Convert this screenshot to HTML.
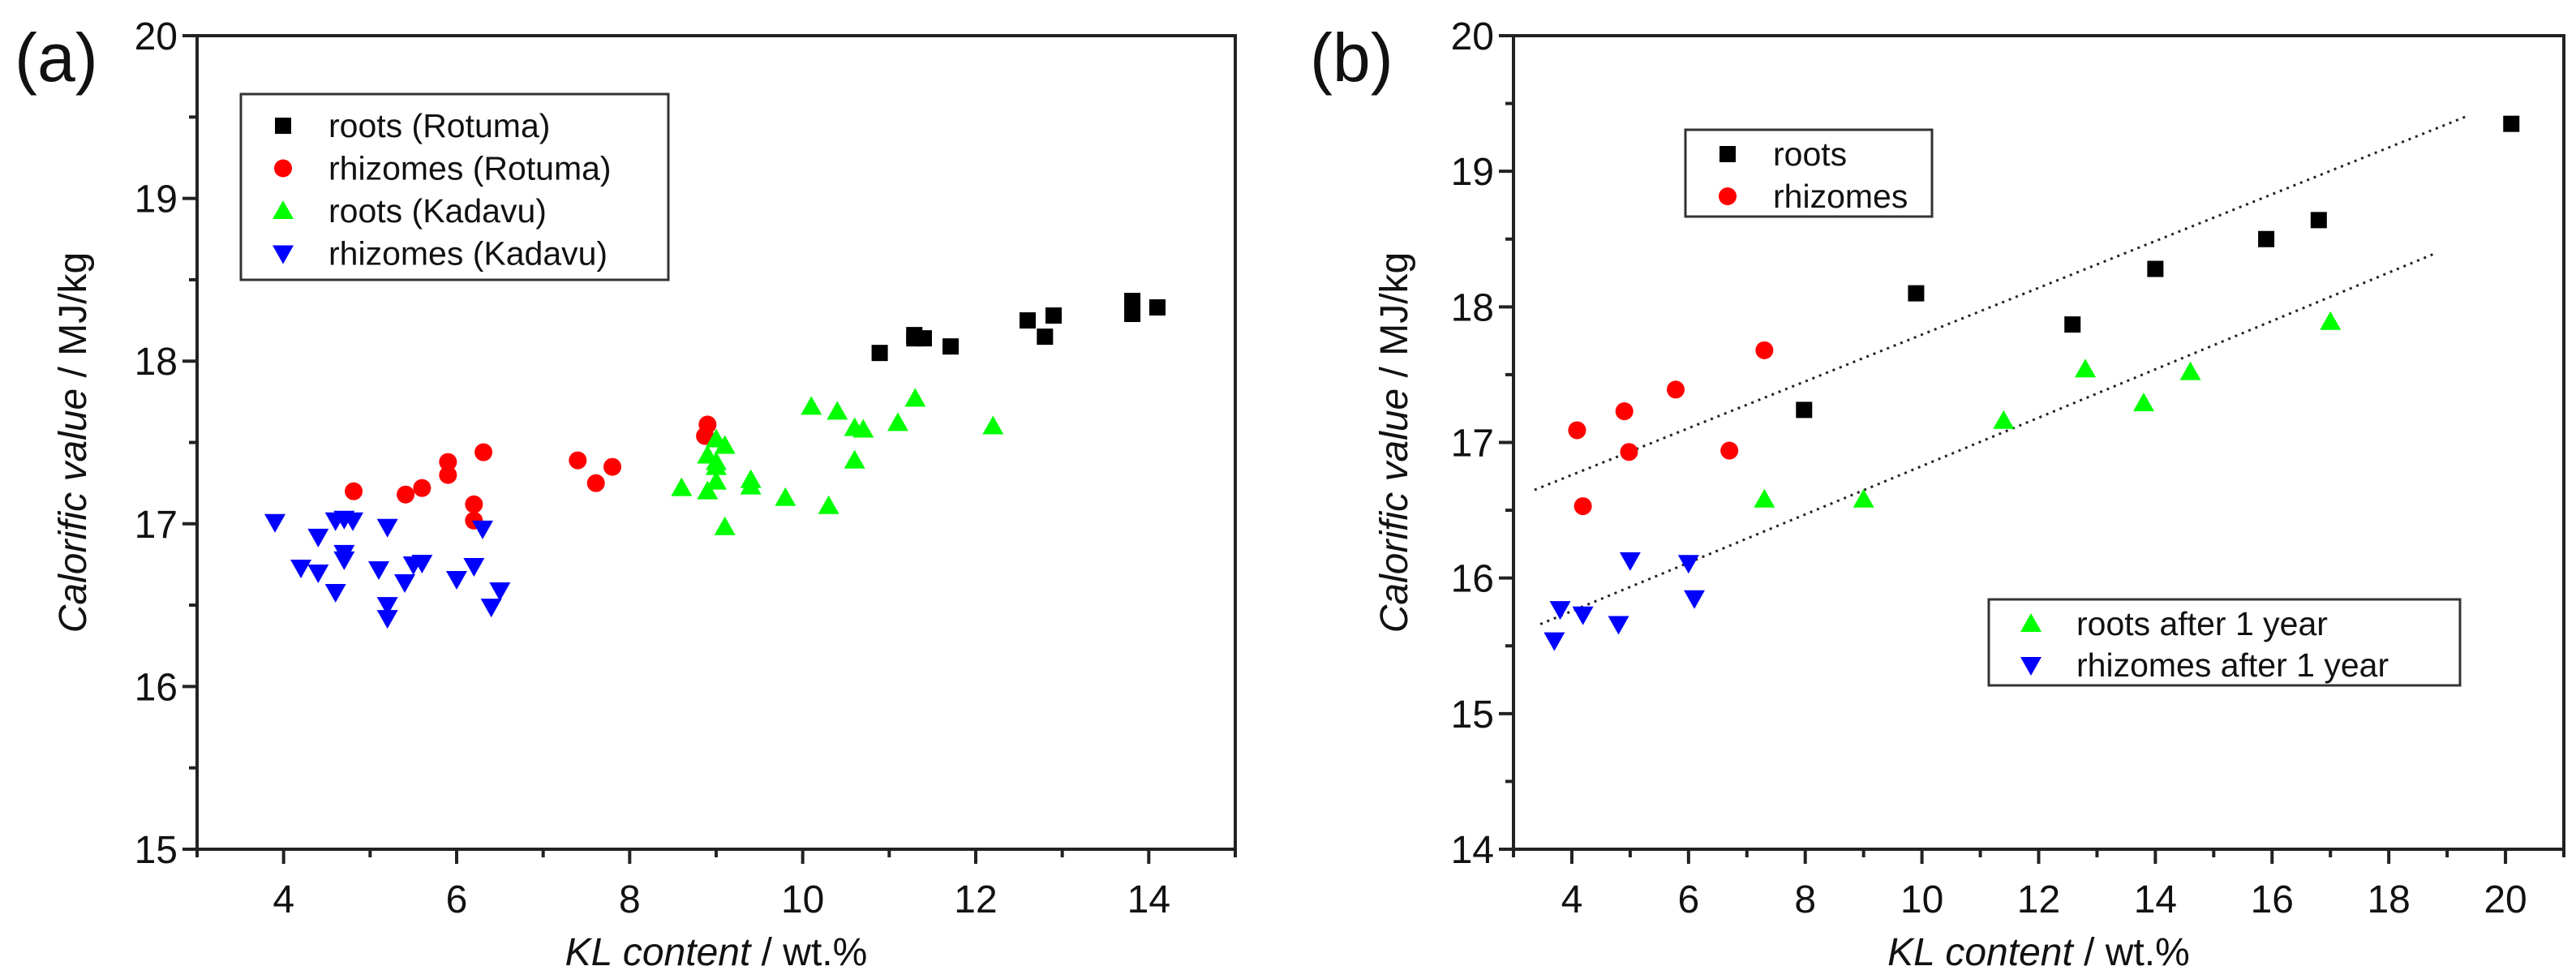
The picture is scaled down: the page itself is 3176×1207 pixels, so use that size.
<!DOCTYPE html>
<html><head><meta charset="utf-8"><style>
html,body{margin:0;padding:0;background:#fff;}
svg{display:block;font-family:"Liberation Sans",sans-serif;}
</style></head><body>
<svg id="fig" width="3176" height="1207" viewBox="0 0 3176 1207" xmlns="http://www.w3.org/2000/svg">
<rect width="3176" height="1207" fill="#fff"/>
</svg>
<script>
// Panel (a) data
const aRootsRotX=[10.89,11.29,11.29,11.4,11.71,12.6,12.8,12.9,13.81,13.81,14.1];
const aRootsRotY=[18.05,18.14,18.16,18.14,18.09,18.25,18.15,18.28,18.29,18.37,18.33];
const aRhizRotX=[4.81,5.41,5.6,5.9,5.9,6.31,6.2,6.2,7.4,7.61,7.8,8.9,8.87];
const aRhizRotY=[17.2,17.18,17.22,17.38,17.3,17.44,17.12,17.02,17.39,17.25,17.35,17.61,17.54];
const aRootsKadX=[8.6,8.9,8.9,9.0,9.1,9.0,9.0,9.1,9.4,9.4,9.8,10.1,10.3,10.4,10.6,10.7,10.6,11.1,11.3,12.2,9.0];
const aRootsKadY=[17.22,17.2,17.42,17.52,17.48,17.38,17.26,16.98,17.27,17.23,17.16,17.72,17.11,17.69,17.59,17.58,17.39,17.62,17.77,17.6,17.35];
const aRhizKadX=[3.9,4.2,4.4,4.4,4.6,4.6,4.7,4.7,4.8,4.7,5.1,5.2,5.2,5.2,5.4,5.5,5.6,6.0,6.2,6.3,6.4,6.5];
const aRhizKadY=[17.01,16.73,16.92,16.7,16.58,17.02,17.03,16.82,17.02,16.78,16.72,16.98,16.5,16.42,16.64,16.75,16.76,16.66,16.74,16.97,16.49,16.59];
const aXTicks=[4,6,8,10,12,14];
const aYTicks=[15,16,17,18,19,20];
// Panel (b) data
const bRootsX=[7.98,9.9,12.58,14.0,15.9,16.8,20.1];
const bRootsY=[17.24,18.10,17.87,18.28,18.50,18.64,19.35];
const bRhizX=[4.09,4.19,4.9,4.98,5.78,6.7,7.3];
const bRhizY=[17.09,16.53,17.23,16.93,17.39,16.94,17.68];
const bRoots1X=[7.3,9.0,11.4,12.8,13.8,14.6,17.0];
const bRoots1Y=[16.58,16.58,17.16,17.54,17.29,17.52,17.89];
const bRhiz1X=[3.7,3.8,4.19,4.8,5.0,6.0,6.1];
const bRhiz1Y=[15.54,15.77,15.73,15.66,16.13,16.11,15.85];
const bFitUpperX=[3.36,19.36];
const bFitUpperY=[16.65,19.41];
const bFitLowerX=[3.46,18.77];
const bFitLowerY=[15.66,18.39];
const bXTicks=[4,6,8,10,12,14,16,18,20];
const bYTicks=[14,15,16,17,18,19,20];

const NS="http://www.w3.org/2000/svg";
const svg=document.getElementById('fig');
function mk(tag,attrs,parent){const e=document.createElementNS(NS,tag);for(const k in attrs)e.setAttribute(k,attrs[k]);(parent||svg).appendChild(e);return e;}

function panel(cfg){
  const g=mk('g',{});
  
  
  const X=v=>cfg.L+(v-cfg.x0)/(cfg.x1-cfg.x0)*(cfg.R-cfg.L);
  const Y=v=>cfg.B-(v-cfg.y0)/(cfg.y1-cfg.y0)*(cfg.B-cfg.T);
  const frame=mk('rect',{x:cfg.L,y:cfg.T,width:cfg.R-cfg.L,height:cfg.B-cfg.T,fill:'none',stroke:'#222','stroke-width':4},g);
  
  
  for(let v=Math.ceil(cfg.x0);v<=cfg.x1;v+=1){
    const major=cfg.xTicks.includes(v);
    const t=mk('line',{x1:X(v),x2:X(v),y1:cfg.B,y2:cfg.B+(major?18:10),stroke:'#222','stroke-width':4},g);
    
    
  }
  cfg.xTicks.forEach(v=>{
    const t=mk('text',{x:X(v),y:cfg.B+78,'font-size':48,'text-anchor':'middle',fill:'#111'},g);
    t.textContent=v;
    
    
  });
  for(let v=cfg.y0;v<=cfg.y1+1e-9;v+=0.5){
    const major=Math.abs(v-Math.round(v))<1e-9;
    const t=mk('line',{x1:cfg.L,x2:cfg.L-(major?18:10),y1:Y(v),y2:Y(v),stroke:'#222','stroke-width':4},g);
    
    
  }
  cfg.yTicks.forEach(v=>{
    const t=mk('text',{x:cfg.L-24,y:Y(v)+17,'font-size':48,'text-anchor':'end',fill:'#111'},g);
    t.textContent=v;
    
    
  });
  const xt=mk('text',{x:(cfg.L+cfg.R)/2,y:1190,'font-size':48,'text-anchor':'middle',fill:'#111'},g);
  xt.innerHTML='<tspan font-style="italic">KL content</tspan> / wt.%';
  
  
  const yt=mk('text',{x:0,y:0,'font-size':48,'text-anchor':'middle',fill:'#111',transform:`translate(${cfg.yTitleX},${(cfg.T+cfg.B)/2}) rotate(-90)`},g);
  yt.innerHTML='<tspan font-style="italic">Calorific value</tspan> / MJ/kg';
  
  
  const pl=mk('text',{x:cfg.labelX,y:100,'font-size':84,fill:'#111'},g);
  pl.textContent=cfg.label;
  
  
  return {g,X,Y};
}
function marker(g,type,cx,cy){
  let e;
  if(type==='sq') e=mk('rect',{x:cx-10,y:cy-10,width:20,height:20,fill:'#000'},g);
  else if(type==='ci') e=mk('circle',{cx:cx,cy:cy,r:11,fill:'#f00'},g);
  else if(type==='up') e=mk('polygon',{points:`${cx},${cy-13} ${cx+13},${cy+10} ${cx-13},${cy+10}`,fill:'#0f0'},g);
  else e=mk('polygon',{points:`${cx},${cy+13} ${cx+13},${cy-10} ${cx-13},${cy-10}`,fill:'#00f'},g);
  return e;
}
function series(p,type,xs,ys,name){
  xs.forEach((x,i)=>{
    const e=marker(p.g,type,p.X(x),p.Y(ys[i]));
    
    
  });
}
function legend(g,x,y,w,h,first,step,items,name){
  const lg=mk('g',{},g);
  
  
  mk('rect',{x:x,y:y,width:w,height:h,fill:'#fff',stroke:'#333','stroke-width':3},lg);
  items.forEach((it,i)=>{
    const cy=y+first+i*step;
    const m=marker(lg,it[0],x+52,cy);
    
    
    const t=mk('text',{x:x+108,y:cy+14,'font-size':41,fill:'#111'},lg);
    t.textContent=it[1];
    
    
  });
}

const pa=panel({name:'panel-a',L:243,R:1523,T:44,B:1047,x0:3,x1:15,y0:15,y1:20,xTicks:aXTicks,yTicks:aYTicks,yTitleX:106,labelX:18,label:'(a)'});
series(pa,'sq',aRootsRotX,aRootsRotY,'roots-rotuma-point');
series(pa,'ci',aRhizRotX,aRhizRotY,'rhizomes-rotuma-point');
series(pa,'up',aRootsKadX,aRootsKadY,'roots-kadavu-point');
series(pa,'dn',aRhizKadX,aRhizKadY,'rhizomes-kadavu-point');
legend(pa.g,297,116,527,229,39,52.5,[['sq','roots (Rotuma)'],['ci','rhizomes (Rotuma)'],['up','roots (Kadavu)'],['dn','rhizomes (Kadavu)']],'legend-a');

const pb=panel({name:'panel-b',L:1866,R:3161,T:44,B:1047,x0:3,x1:21,y0:14,y1:20,xTicks:bXTicks,yTicks:bYTicks,yTitleX:1735,labelX:1615,label:'(b)'});
[[bFitUpperX,bFitUpperY,'fit-line-upper'],[bFitLowerX,bFitLowerY,'fit-line-lower']].forEach(f=>{
  const l=mk('line',{x1:pb.X(f[0][0]),y1:pb.Y(f[1][0]),x2:pb.X(f[0][1]),y2:pb.Y(f[1][1]),stroke:'#222','stroke-width':3,'stroke-dasharray':'3 6'},pb.g);
  
  
});
series(pb,'sq',bRootsX,bRootsY,'roots-point');
series(pb,'ci',bRhizX,bRhizY,'rhizomes-point');
series(pb,'up',bRoots1X,bRoots1Y,'roots-after-1-year-point');
series(pb,'dn',bRhiz1X,bRhiz1Y,'rhizomes-after-1-year-point');
legend(pb.g,2078,160,304,107,30,52,[['sq','roots'],['ci','rhizomes']],'legend-b-top');
legend(pb.g,2452,739,581,106,30,51,[['up','roots after 1 year'],['dn','rhizomes after 1 year']],'legend-b-bottom');
</script>
</body></html>
